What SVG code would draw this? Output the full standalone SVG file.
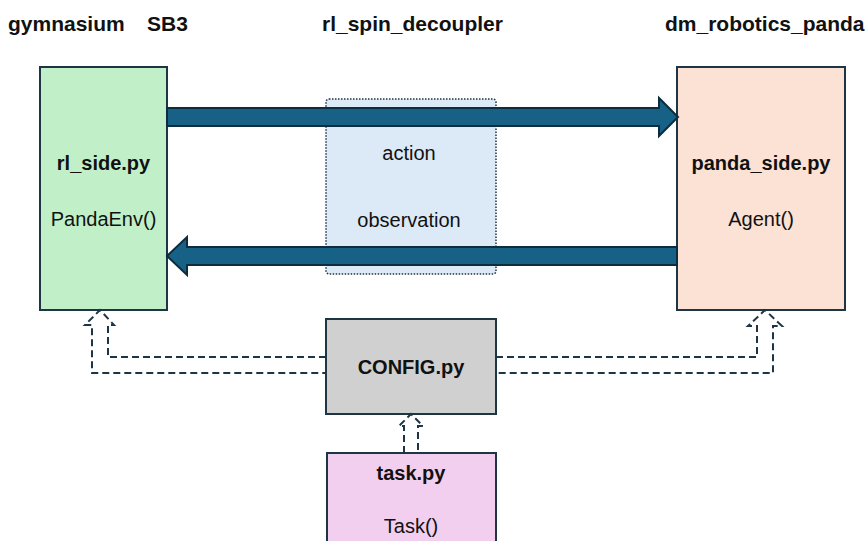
<svg xmlns="http://www.w3.org/2000/svg" width="865" height="541" viewBox="0 0 865 541">
<style>
text{font-family:"Liberation Sans",Arial,sans-serif;font-size:20px;fill:#111;}
.b{font-weight:bold;}
.h{font-size:21px;}
.m{text-anchor:middle;}
.box{stroke:#1e3545;stroke-width:2;}
.arr{fill:#176187;stroke:#0d2c3e;stroke-width:2;stroke-linejoin:miter;}
.dash{fill:none;stroke:#1e3545;stroke-width:2;stroke-dasharray:7 4;}
</style>
<rect width="865" height="541" fill="#fff"/>
<g id="headers">
<text class="b h" x="8" y="31">gymnasium</text>
<text class="b h" x="147" y="31">SB3</text>
<text class="b h" x="322" y="31">rl_spin_decoupler</text>
<text class="b h" x="665" y="31">dm_robotics_panda</text>
</g>
<g id="decoupler">
<rect x="326" y="99" width="170" height="175" rx="3" fill="#dce9f6" stroke="#1e3545" stroke-width="1.5" stroke-dasharray="1.5 1.5"/>
<text class="m" x="409" y="160">action</text>
<text class="m" x="409" y="227">observation</text>
</g>
<g id="rl_side">
<rect class="box" x="40" y="67" width="127" height="243" fill="#c1f0c8"/>
<text class="b m" x="103.5" y="170">rl_side.py</text>
<text class="m" x="103.5" y="226">PandaEnv()</text>
</g>
<g id="panda_side">
<rect class="box" x="677" y="67" width="168" height="243" fill="#fbe2d5"/>
<text class="b m" x="761" y="170">panda_side.py</text>
<text class="m" x="761" y="226">Agent()</text>
</g>
<g id="config">
<rect class="box" x="326" y="319" width="170" height="95" fill="#d0d0d0"/>
<text class="b m" x="411" y="374">CONFIG.py</text>
</g>
<g id="task">
<rect class="box" x="327" y="453" width="169" height="100" fill="#f2cfee"/>
<text class="b m" x="411" y="480">task.py</text>
<text class="m" x="411" y="533">Task()</text>
</g>
<g id="connectors">
<path class="arr" d="M167,108 H659 V98 L678,117 L659,136 V126 H167 Z"/>
<path class="arr" d="M677,247 H187 V237 L167,256 L187,275 V265 H677 Z"/>
<path class="dash" d="M326,357 H108 V325 H114 L100,310 L85,325 H92 V373 H326"/>
<path class="dash" d="M496,357 H757 V326 H748 L765,310 L782,326 H773 V373 H496"/>
<path class="dash" d="M404,453 V426 H399 L411,414 L423,426 H418 V453"/>
</g>
</svg>
